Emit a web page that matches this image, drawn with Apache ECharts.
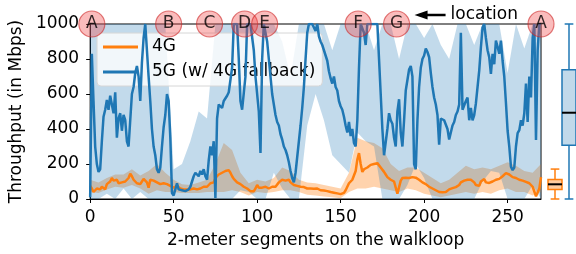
<!DOCTYPE html>
<html>
<head>
<meta charset="utf-8">
<script src="https://cdn.jsdelivr.net/npm/echarts@6/dist/echarts.min.js"></script>
<style>
  html, body { margin: 0; padding: 0; background: #fff; }
  #main { width: 576px; height: 254px; }
</style>
</head>
<body>
<div id="main"></div>
<script>
// throughput per 2-meter segment (index = segment number)
const g4 = [
  75, 60, 40, 45, 60, 65, 55, 70, 60, 55,
  85, 95, 100, 120, 105, 95, 110, 90, 80, 95,
  105, 100, 90, 120, 145, 130, 110, 100, 90, 95,
  85, 100, 115, 125, 95, 65, 110, 120, 105, 100,
  95, 90, 85, 95, 90, 80, 85, 80, 75, 70,
  65, 70, 75, 65, 60, 55, 55, 60, 55, 50,
  55, 55, 60, 60, 55, 60, 60, 65, 70, 65,
  70, 80, 90, 95, 95, 120, 130, 140, 145, 150,
  155, 160, 170, 165, 150, 130, 115, 105, 95, 90,
  85, 75, 70, 65, 60, 50, 45, 40, 45, 60,
  80, 65, 60, 65, 60, 70, 65, 60, 65, 70,
  75, 70, 80, 95, 105, 110, 115, 105, 100, 110,
  95, 85, 80, 80, 75, 70, 70, 65, 68, 65,
  60, 62, 60, 55, 58, 55, 60, 55, 50, 50,
  48, 45, 45, 42, 40, 38, 36, 34, 32, 30,
  28, 30, 35, 50, 70, 90, 100, 110, 120, 160,
  225, 262, 200, 155, 170, 160, 180, 185, 195, 190,
  200, 205, 205, 195, 180, 170, 155, 140, 125, 115,
  110, 105, 100, 95, 30, 25, 105, 120, 118, 122,
  125, 120, 124, 125, 120, 122, 115, 110, 100, 95,
  90, 85, 75, 70, 65, 60, 55, 50, 45, 40,
  35, 38, 34, 40, 50, 55, 60, 62, 65, 68,
  70, 80, 95, 100, 105, 108, 110, 112, 110, 108,
  95, 80, 70, 75, 100, 110, 114, 95, 90, 92,
  95, 100, 105, 110, 108, 115, 120, 130, 140, 148,
  145, 140, 130, 125, 128, 120, 115, 110, 108, 105,
  100, 98, 95, 90, 85, 70, 60, 15, 5, 60,
  125
];
const g5 = [
  10, 830, 560, 300, 200, 155, 170, 330, 470, 510,
  566, 510, 590, 540, 490, 610, 350, 460, 490, 390,
  480, 450, 330, 300, 450, 600, 640, 720, 760, 700,
  560, 780, 920, 1000, 1000, 700, 560, 400, 300, 250,
  170, 150, 180, 300, 410, 480, 600, 560, 350, 34,
  20, 20, 90, 55, 45, 50, 45, 45, 55, 55,
  70, 100, 130, 150, 150, 130, 160, 140, 170, 130,
  110, 220, 300, 250, 330, 6, 460, 540, 550, 520,
  560, 560, 590, 610, 620, 750, 1000, 1000, 1000, 800,
  560, 510, 520, 700, 1000, 1000, 1000, 1000, 850, 700,
  600, 500, 263, 800, 1000, 950, 900, 800, 700, 600,
  540, 480, 440, 420, 370, 340, 300, 280, 250, 210,
  160, 120, 95, 150, 240, 330, 420, 520, 640, 800,
  950, 1000, 1000, 1000, 1000, 960, 1000, 930, 900, 880,
  850, 820, 790, 730, 690, 660, 700, 640, 620, 560,
  530, 510, 470, 420, 380, 440, 360, 400, 320, 300,
  450, 750, 1000, 1000, 950, 880, 1000, 1000, 1000, 1000,
  1000, 1000, 1000, 800, 600, 400, 250, 240, 400, 490,
  450, 430, 350, 300, 500, 570, 380, 300, 450, 620,
  680, 740, 760, 700, 200, 170, 450, 640, 750, 800,
  820, 860, 840, 810, 720, 640, 580, 540, 480, 310,
  460, 470, 450, 450, 400, 340, 380, 420, 440, 480,
  500, 540, 950, 510, 520, 560, 580, 450, 520, 450,
  480, 546, 640, 734, 866, 980, 1000, 920, 850, 810,
  715, 830, 770, 905, 870, 830, 905, 790, 700, 550,
  390, 300, 185, 165, 180, 300, 376, 393, 450, 420,
  490, 660, 440, 700, 580, 920, 1000, 337, 850, 1000,
  1000
];

// spread bands, sampled every 5 segments
const bandSeg = [0, 5, 10, 15, 20, 25, 30, 35, 40, 45, 50, 55, 60, 65, 70, 75, 80, 85, 90, 95,
  100, 105, 110, 115, 120, 125, 130, 135, 140, 145, 150, 155, 160, 165, 170, 175, 180, 185, 190, 195,
  200, 205, 210, 215, 220, 225, 230, 235, 240, 245, 250, 255, 260, 265, 270];
const g4Lo = [40, 35, 55, 70, 65, 80, 60, 30, 50, 40, 40, 35, 35, 35, 40, 40, 40, 50, 40, 20,
  40, 35, 40, 50, 50, 40, 25, 20, 15, 10, 5, 40, 60, 60, 70, 60, 50, 40, 60, 50,
  30, 20, 10, 20, 30, 40, 30, 40, 30, 50, 60, 40, 40, 20, 40];
const g4Hi = [110, 95, 120, 140, 140, 170, 135, 160, 200, 150, 110, 85, 80, 95, 110, 200, 320, 280, 150, 90,
  110, 100, 120, 180, 160, 110, 95, 90, 80, 70, 60, 150, 350, 330, 320, 290, 200, 160, 180, 180,
  150, 120, 90, 110, 150, 190, 170, 180, 170, 190, 210, 190, 160, 150, 200];
const g5Lo = [0, 0, 30, 0, 60, 0, 40, 0, 0, 0, 0, 0, 0, 0, 0, 0, 0, 0, 50, 40,
  0, 0, 150, 60, 0, 0, 420, 600, 450, 250, 200, 150, 380, 330, 300, 0, 0, 0, 80, 200,
  120, 0, 0, 0, 0, 0, 0, 100, 160, 150, 0, 0, 0, 80, 0];
const g5Hi = [1000, 1000, 1000, 1000, 1000, 1000, 1000, 1000, 1000, 1000, 170, 200, 330, 500, 460, 1000, 1000, 1000, 1000, 1000,
  1000, 1000, 1000, 900, 700, 1000, 1000, 1000, 1000, 850, 1000, 1000, 1000, 1000, 850, 1000, 1000, 800, 1000, 1000,
  920, 1000, 880, 800, 1000, 1000, 880, 1000, 1000, 1000, 720, 1000, 860, 1000, 1000];

// location markers along the loop
const locNames = ['A', 'B', 'C', 'D', 'E', 'F', 'G', 'A'];
const locSeg = [1, 47, 71.5, 92.5, 104.5, 160.5, 183.5, 270];

// box plots: [min, q1, median, q3, max]
const boxNames = ['4G', '5G'];
const boxStats = [[0, 55, 84, 112, 171], [0, 307, 493, 738, 1000]];

const xTicks = [0, 50, 100, 150, 200, 250];
const yTicks = [0, 200, 400, 600, 800, 1000];

const C4 = '#ff7f0e', C5 = '#1f77b4';
const FONT = 'DejaVu Sans';

// filled band between lo and hi, drawn as one polygon through the axes
function bandSeries(lo, hi, fill) {
  return {
    type: 'custom', xAxisIndex: 0, yAxisIndex: 0, silent: true, z: 1,
    data: [[bandSeg[0], lo[0]]],
    renderItem: function (params, api) {
      const top = bandSeg.map((s, i) => api.coord([s, hi[i]]));
      const bot = bandSeg.map((s, i) => api.coord([s, lo[i]])).reverse();
      return { type: 'polygon', shape: { points: top.concat(bot) }, style: { fill: fill } };
    }
  };
}

const chart = echarts.init(document.getElementById('main'), null, { renderer: 'canvas' });

const option = {
  animation: false,
  textStyle: { fontFamily: FONT },
  grid: [
    { left: 88, top: 24, width: 453, height: 175, show: true, borderColor: '#000', borderWidth: 1,
      backgroundColor: 'transparent' },
    { left: 548, top: 24, width: 32, height: 175 }
  ],
  legend: {
    data: ['4G', '5G (w/ 4G fallback)'],
    orient: 'vertical', left: 97, top: 33,
    icon: 'rect', itemWidth: 35, itemHeight: 3, itemGap: 5,
    padding: [4, 7, 4, 6],
    backgroundColor: 'rgba(255,255,255,0.8)', borderColor: '#d6d6d6', borderWidth: 1, borderRadius: 4,
    textStyle: { fontFamily: FONT, fontSize: 17, color: '#000', lineHeight: 20, padding: [0, 0, 0, 9] }
  },
  xAxis: [
    { type: 'value', gridIndex: 0, min: 0, max: 270,
      name: '2-meter segments on the walkloop', nameLocation: 'middle', nameGap: 33,
      nameTextStyle: { fontFamily: FONT, fontSize: 17, color: '#000' },
      axisLine: { show: true, lineStyle: { color: '#000', width: 1 } },
      axisTick: { show: true, length: 4, lineStyle: { color: '#000' }, customValues: xTicks },
      axisLabel: { fontFamily: FONT, fontSize: 17, color: '#000', margin: 10, customValues: xTicks,
        formatter: v => String(v) },
      splitLine: { show: false } },
    { type: 'category', gridIndex: 1, data: boxNames, show: false }
  ],
  yAxis: [
    { type: 'value', gridIndex: 0, min: 0, max: 1000,
      name: 'Throughput (in Mbps)', nameLocation: 'middle', nameGap: 60,
      nameTextStyle: { fontFamily: FONT, fontSize: 17, color: '#000' },
      axisLine: { show: true, lineStyle: { color: '#000', width: 1 } },
      axisTick: { show: true, length: 4, lineStyle: { color: '#000' }, customValues: yTicks },
      axisLabel: { fontFamily: FONT, fontSize: 17, color: '#000', margin: 11, customValues: yTicks,
        formatter: v => String(v) },
      splitLine: { show: false } },
    { type: 'value', gridIndex: 1, min: 0, max: 1000, show: false }
  ],
  series: [
    bandSeries(g4Lo, g4Hi, 'rgba(255,127,14,0.34)'),
    bandSeries(g5Lo, g5Hi, 'rgba(31,119,180,0.27)'),
    { name: '4G', type: 'line', data: g4.map((v, i) => [i, v]), color: C4,
      symbol: 'none', lineStyle: { width: 2.5, color: C4 }, z: 3 },
    { name: '5G (w/ 4G fallback)', type: 'line', data: g5.map((v, i) => [i, v]), color: C5,
      symbol: 'none', lineStyle: { width: 2.5, color: C5 }, z: 4 },
    { name: 'loc', type: 'scatter', data: locSeg.map(s => [s, 1000]), clip: false,
      symbol: 'circle', symbolSize: 26, z: 10, silent: true,
      itemStyle: { color: 'rgba(240,70,70,0.45)', borderColor: 'rgba(205,40,40,0.75)', borderWidth: 1.2 },
      label: { show: true, position: 'inside', color: '#000', fontFamily: FONT, fontSize: 17,
        formatter: p => locNames[p.dataIndex] } },
    { name: 'box', type: 'custom', xAxisIndex: 1, yAxisIndex: 1, silent: true, z: 5,
      data: boxStats.map((s, i) => [i].concat(s)),
      renderItem: function (params, api) {
        const i = api.value(0);
        const col = i === 0 ? C4 : C5;
        const fill = i === 0 ? 'rgba(255,127,14,0.4)' : 'rgba(31,119,180,0.28)';
        const lo = api.coord([i, api.value(1)]);
        const q1 = api.coord([i, api.value(2)]);
        const md = api.coord([i, api.value(3)]);
        const q3 = api.coord([i, api.value(4)]);
        const hi = api.coord([i, api.value(5)]);
        const w = api.size([1, 0])[0];
        const x = lo[0], bw = w, cw = w * 0.62;
        const st = { stroke: col, lineWidth: 1.5 };
        return { type: 'group', children: [
          { type: 'line', shape: { x1: x, y1: lo[1], x2: x, y2: q1[1] }, style: st },
          { type: 'line', shape: { x1: x, y1: q3[1], x2: x, y2: hi[1] }, style: st },
          { type: 'line', shape: { x1: x - cw / 2, y1: lo[1], x2: x + cw / 2, y2: lo[1] }, style: st },
          { type: 'line', shape: { x1: x - cw / 2, y1: hi[1], x2: x + cw / 2, y2: hi[1] }, style: st },
          { type: 'rect', shape: { x: x - bw / 2, y: q3[1], width: bw, height: q1[1] - q3[1] },
            style: { fill: fill, stroke: col, lineWidth: 1.5 } },
          { type: 'line', shape: { x1: x - bw / 2, y1: md[1], x2: x + bw / 2, y2: md[1] },
            style: { stroke: '#000', lineWidth: 2 } }
        ] };
      } }
  ]
};

chart.setOption(option);

// "location" arrow pointing at marker G
const gPos = chart.convertToPixel({ gridIndex: 0 }, [locSeg[6], 1000]);
const tipX = gPos[0] + 18, ay = 15;
chart.setOption({
  graphic: [
    { type: 'polygon', shape: { points: [[tipX, ay], [tipX + 13, ay - 4.5], [tipX + 13, ay + 4.5]] },
      style: { fill: '#000' }, z: 20 },
    { type: 'line', shape: { x1: tipX + 12, y1: ay, x2: tipX + 31, y2: ay },
      style: { stroke: '#000', lineWidth: 2.5 }, z: 20 },
    { type: 'text', x: tipX + 36, y: ay, z: 20,
      style: { text: 'location', fontFamily: FONT, fontSize: 17, fill: '#000', verticalAlign: 'middle' } }
  ]
});
</script>
</body>
</html>
